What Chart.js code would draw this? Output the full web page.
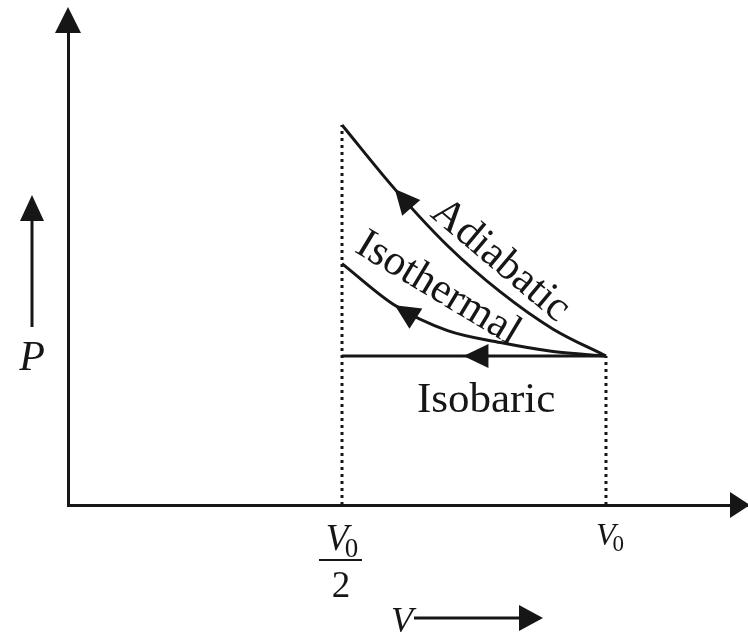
<!DOCTYPE html>
<html><head><meta charset="utf-8">
<script src="https://cdn.jsdelivr.net/npm/chart.js@4/dist/chart.umd.min.js"></script>
<style>html,body{margin:0;padding:0;background:#fff;overflow:hidden}</style>
</head><body>
<canvas id="c" width="748" height="636" style="width:748px;height:636px;display:block"></canvas>
<script>
// ---- data (V in units of V0, P in units of P0) ----
const volumes       = [0.5, 0.6, 0.7, 0.8, 0.9, 1.0];
const adiabaticP    = [2.55, 2.12, 1.74, 1.43, 1.18, 1.0];
const isothermalP   = [1.62, 1.34, 1.17, 1.09, 1.03, 1.0];
const isobaricV     = [0.5, 1.0];
const isobaricP     = [1.0, 1.0];
const tickValues    = [0.5, 1.0];
const curveNames    = ['Adiabatic', 'Isothermal', 'Isobaric'];
const arrowAtV      = [0.6, 0.6, 0.73];
const labelAnchorV  = [0.80, 0.682, 0.773];
const labelAnchorP  = [1.64, 1.45, 0.624];
const labelAngleDeg = [40, 31, 0];

const ink = '#161616';
const serif = '"Liberation Serif","DejaVu Serif",serif';

const pts = (xs, ys) => xs.map((x, i) => ({x, y: ys[i]}));
const interp = (xs, ys, v) => {
  for (let i = 0; i < xs.length - 1; i++) {
    if (v >= xs[i] && v <= xs[i+1]) {
      const t = (v - xs[i]) / (xs[i+1] - xs[i]);
      return ys[i] + t * (ys[i+1] - ys[i]);
    }
  }
  return ys[ys.length - 1];
};

function arrowHead(ctx, tx, ty, dx, dy, len, half) {
  const n = Math.hypot(dx, dy); dx /= n; dy /= n;
  const bx = tx - dx * len, by = ty - dy * len;
  ctx.beginPath();
  ctx.moveTo(tx, ty);
  ctx.lineTo(bx - dy * half, by + dx * half);
  ctx.lineTo(bx + dy * half, by - dx * half);
  ctx.closePath();
  ctx.fill();
}

function drawV0(ctx, cx, baseline, size) {
  ctx.textAlign = 'left'; ctx.textBaseline = 'alphabetic';
  ctx.font = `italic ${size}px ${serif}`;
  const wV = ctx.measureText('V').width;
  const subSize = Math.round(size * 0.72);
  ctx.font = `${subSize}px ${serif}`;
  const w0 = ctx.measureText('0').width;
  const kern = size * 0.1;
  const total = wV + w0 - kern;
  const x = cx - total / 2;
  ctx.font = `italic ${size}px ${serif}`;
  ctx.fillText('V', x, baseline);
  ctx.font = `${subSize}px ${serif}`;
  ctx.fillText('0', x + wV - kern, baseline + size * 0.2);
  return total;
}

const decor = {
  id: 'decor',
  afterDraw(chart) {
    const ctx = chart.ctx, xs = chart.scales.x, ys = chart.scales.y, ca = chart.chartArea;
    ctx.save();
    ctx.fillStyle = ink; ctx.strokeStyle = ink;

    // axis extensions + arrowheads
    ctx.lineWidth = 3;
    ctx.beginPath(); ctx.moveTo(ca.left, ca.top); ctx.lineTo(ca.left, ca.top - 8); ctx.stroke();
    arrowHead(ctx, ca.left, ca.top - 13, 0, -1, 26, 13);
    arrowHead(ctx, ca.right + 2, ca.bottom, 1, 0, 20, 13);

    // arrows on the curves
    const curves = [[volumes, adiabaticP], [volumes, isothermalP], [isobaricV, isobaricP]];
    curves.forEach(([vx, py], i) => {
      const v = arrowAtV[i];
      const tx = xs.getPixelForValue(v), ty = ys.getPixelForValue(interp(vx, py, v));
      const ax = xs.getPixelForValue(v + 0.05), ay = ys.getPixelForValue(interp(vx, py, v + 0.05));
      const bx = xs.getPixelForValue(v - 0.05), by = ys.getPixelForValue(interp(vx, py, v - 0.05));
      arrowHead(ctx, tx, ty, bx - ax, by - ay, 25, 12);
    });

    // curve labels
    ctx.font = `43px ${serif}`;
    curveNames.forEach((name, i) => {
      const px = xs.getPixelForValue(labelAnchorV[i]), py = ys.getPixelForValue(labelAnchorP[i]);
      ctx.save();
      ctx.translate(px, py);
      ctx.rotate(labelAngleDeg[i] * Math.PI / 180);
      ctx.textAlign = 'center';
      ctx.textBaseline = i === 2 ? 'alphabetic' : 'middle';
      ctx.fillText(name, 0, 0);
      ctx.restore();
    });

    // x tick labels: V0/2 and V0
    const p05 = xs.getPixelForValue(tickValues[0]);
    drawV0(ctx, p05, 550, 37);
    ctx.lineWidth = 2;
    ctx.beginPath(); ctx.moveTo(p05 - 23, 560); ctx.lineTo(p05 + 20, 560); ctx.stroke();
    ctx.font = `37px ${serif}`; ctx.textAlign = 'center'; ctx.textBaseline = 'alphabetic';
    ctx.fillText('2', p05 - 1, 597);
    const p1 = xs.getPixelForValue(tickValues[1]);
    drawV0(ctx, p1 + 4, 545, 32);

    // axis name P with up arrow
    const pY = ys.getPixelForValue(1);
    ctx.font = `italic 42px ${serif}`; ctx.textAlign = 'center'; ctx.textBaseline = 'alphabetic';
    ctx.fillText('P', ca.left - 36, pY + 14);
    ctx.lineWidth = 3;
    ctx.beginPath(); ctx.moveTo(ca.left - 36, pY - 29); ctx.lineTo(ca.left - 36, pY - 140); ctx.stroke();
    arrowHead(ctx, ca.left - 36, pY - 161, 0, -1, 26, 12);

    // axis name V with right arrow
    ctx.font = `italic 36px ${serif}`; ctx.textAlign = 'right';
    ctx.fillText('V', 413, 632);
    ctx.beginPath(); ctx.moveTo(414, 618); ctx.lineTo(522, 618); ctx.stroke();
    arrowHead(ctx, 543, 618, 1, 0, 24, 13);
    ctx.restore();
  }
};

new Chart(document.getElementById('c'), {
  type: 'scatter',
  data: {
    datasets: [
      { label: curveNames[0], data: pts(volumes, adiabaticP), showLine: true, borderColor: ink, borderWidth: 3, pointRadius: 0, cubicInterpolationMode: 'monotone' },
      { label: curveNames[1], data: pts(volumes, isothermalP), showLine: true, borderColor: ink, borderWidth: 3, pointRadius: 0, cubicInterpolationMode: 'monotone' },
      { label: curveNames[2], data: pts(isobaricV, isobaricP), showLine: true, borderColor: ink, borderWidth: 3, pointRadius: 0 },
      { label: 'guide1', data: [{x: tickValues[0], y: 0}, {x: tickValues[0], y: adiabaticP[0]}], showLine: true, borderColor: ink, borderWidth: 3, borderDash: [3, 4], pointRadius: 0 },
      { label: 'guide2', data: [{x: tickValues[1], y: 0}, {x: tickValues[1], y: isobaricP[1]}], showLine: true, borderColor: ink, borderWidth: 3, borderDash: [3, 4], pointRadius: 0 }
    ]
  },
  options: {
    responsive: false,
    devicePixelRatio: 1,
    animation: false,
    layout: { padding: { left: 68, right: 0, top: 20, bottom: 131 } },
    plugins: { legend: { display: false }, tooltip: { enabled: false } },
    scales: {
      x: { type: 'linear', min: -0.019, max: 1.269,
           grid: { display: false, drawTicks: false },
           border: { display: true, width: 3, color: ink },
           ticks: { display: false } },
      y: { type: 'linear', min: 0, max: 3.255,
           grid: { display: false, drawTicks: false },
           border: { display: true, width: 3, color: ink },
           ticks: { display: false } }
    }
  },
  plugins: [decor]
});
</script>
</body></html>
